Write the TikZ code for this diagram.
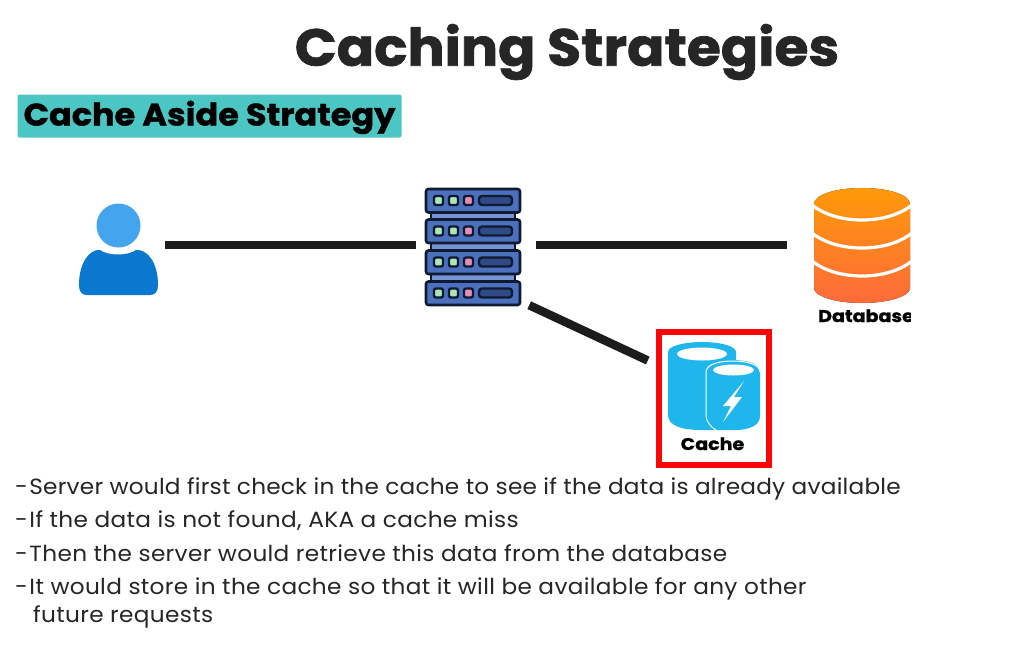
\documentclass[tikz,border=0pt]{standalone}
\usepackage{fontspec}
\setmainfont{Poppins}
\newfontfamily\bodyfont[FakeStretch=1.055,LetterSpace=1.5]{Poppins}
\newfontfamily\bodyfonttight[FakeStretch=1.055,LetterSpace=1.0]{Poppins}
\newfontfamily\titlefont[BoldFeatures={FakeStretch=1.06,FakeBold=1.4}]{Poppins}
\newfontfamily\tagfont[BoldFeatures={FakeStretch=1.08,FakeBold=1.4}]{Poppins}
\newfontfamily\lblfont[BoldFeatures={FakeStretch=1.12,FakeBold=1.2}]{Poppins}
\usetikzlibrary{calc}
\definecolor{ink}{HTML}{262626}
\definecolor{barink}{HTML}{1C1C1C}
\definecolor{tealbg}{HTML}{4CC6C2}
\definecolor{srvblue}{HTML}{4A70BE}
\definecolor{srvdark}{HTML}{2F4A85}
\definecolor{srvlight}{HTML}{7594D6}
\definecolor{srvline}{HTML}{101A30}
\definecolor{ledg}{HTML}{A9E8B5}
\definecolor{ledp}{HTML}{E58DB5}
\definecolor{headlt}{HTML}{45A4EE}
\definecolor{bodybl}{HTML}{0A78CF}
\definecolor{cachebl}{HTML}{1FB6EC}
\definecolor{dbtop}{HTML}{FF9A0A}
\definecolor{dbbot}{HTML}{FF6A3A}
\definecolor{framered}{HTML}{FA0606}
\tikzset{
 slot/.style={draw=none,fill=none,inner sep=0pt},
 linkline/.style={line width=8.5pt,draw=barink},
 bullet/.style={anchor=base west,inner sep=0pt,font=\bodyfont\fontsize{22}{24}\selectfont,text=ink},
 rackbox/.style={draw=srvline,line width=2.6pt,fill=srvblue,rounded corners=2.5pt},
 led/.style={draw=srvline,line width=2.4pt,rounded corners=2pt},
 lbl/.style={inner sep=0pt,font=\lblfont\bfseries\fontsize{17}{20}\selectfont,text=black},
}
\newcommand{\dashlead}{-\hspace*{-5pt} }
\begin{document}
\begin{tikzpicture}[x=1pt,y=-1pt]
\useasboundingbox (0,0) rectangle (1027,662);
\fill[white] (0,0) rectangle (1027,662);
% title
\node[inner sep=0pt,font=\titlefont\bfseries\fontsize{52}{56}\selectfont,text=ink] (title) at (567,52) {Caching Strategies};
\node[fill=tealbg,inner sep=0pt,minimum width=384pt,minimum height=43pt,rounded corners=2pt] (tag) at (209.5,116) {};
\node[inner sep=0pt,font=\tagfont\bfseries\fontsize{31}{34}\selectfont,text=black,anchor=base] (tagtext) at (209.5,125.5) {Cache Aside Strategy};
% slots
\node[slot,minimum width=93pt,minimum height=100pt] (user) at (118.5,245) {};
\node[slot,minimum width=120pt,minimum height=120pt] (server) at (476,245) {};
\node[slot,minimum width=148pt,minimum height=120pt] (db) at (861,245) {};
% user icon
\fill[bodybl] (79,285) .. controls (79,262) and (90,249) .. (100,250) .. controls (108,256) and (128,256) .. (136,250) .. controls (147,249) and (158,262) .. (158,285) .. controls (158,292) and (155,295) .. (150,295) -- (87,295) .. controls (82,295) and (79,292) .. (79,285) -- cycle;
\fill[headlt] (118.5,225.5) circle (22pt);
% server icon
\foreach \yy in {212,243,274}{
 \fill[srvlight] (431,\yy) rectangle (515,\yy+8);
 \draw[srvline,line width=2.2pt] (431,\yy) -- (431,\yy+8) (515,\yy) -- (515,\yy+8);
}
\foreach \yy in {189,219.5,250.5,281.5}{
 \draw[rackbox] (426,\yy) rectangle (520,\yy+23.5);
 \foreach \xx/\cc in {434/ledg,449/ledg,464/ledp}{
  \draw[led,fill=\cc] (\xx,\yy+7) rectangle (\xx+9,\yy+16);
 }
 \draw[led,fill=srvdark,rounded corners=3pt] (479,\yy+7) rectangle (512,\yy+16);
}
% database
\fill[top color=dbtop,bottom color=dbbot] (814,204) -- (814,288) .. controls (814,296) and (835,303) .. (862,303) .. controls (889,303) and (910,296) .. (910,288) -- (910,204) .. controls (910,195) and (889,188) .. (862,188) .. controls (835,188) and (814,195) .. (814,204) -- cycle;
\foreach \yy in {205,233,261}{
 \draw[white,line width=3.2pt] (812,\yy) .. controls (826,\yy+11) and (845,\yy+15) .. (862,\yy+15) .. controls (879,\yy+15) and (898,\yy+11) .. (912,\yy);
}
\node[lbl,anchor=base] (dbl) at (866,322) {Database};
\fill[white] (910.5,300) rectangle (960,330);
% cache
\node[draw=framered,line width=6.5pt,minimum width=110pt,minimum height=133pt,inner sep=0pt,fill=white] (cache) at (714,398.5) {};
\fill[cachebl] (668,352) -- (668,415) .. controls (668,425) and (680,430) .. (702,430) -- (735,430) .. controls (750,430) and (760,425) .. (760,416) -- (760,372) .. controls (760,364) and (750,361) .. (736,360) -- (736,352) .. controls (736,346) and (720,342) .. (702,342) .. controls (684,342) and (668,346) .. (668,352) -- cycle;
\draw[white,line width=1pt] (706,372) .. controls (706,364) and (720,361) .. (733,361) .. controls (748,361) and (760,365) .. (760,372) (706,372) -- (706,416) .. controls (706,422) and (712,428) .. (716,430);
\fill[white] (702,354) ellipse (25pt and 6.5pt);
\fill[white] (733.5,370) ellipse (20.5pt and 5.5pt);
\fill[white] (744,381) -- (723,406) -- (731,406) -- (723,422) -- (742,397) -- (734,397) -- cycle;
\node[lbl,anchor=base] (cachel) at (712.5,450) {Cache};
% connectors
\draw[linkline] (user.east) -- (server.west);
\draw[linkline] (server.east) -- (db.west);
\draw[linkline] ($(server.south east)+(-7,0)$) -- ($(cache.west)+(-8,-38)$);
% bullets
\node[bullet] (b1) at (15,494) {\bodyfonttight\fontsize{22}{24}\selectfont\dashlead Server would first check in the cache to see if the data is already available};
\node[bullet] (b2) at (15,527.5) {\dashlead If the data is not found, AKA a cache miss};
\node[bullet] (b3) at (15,561) {\dashlead Then the server would retrieve this data from the database};
\node[bullet] (b4) at (15,594.5) {\dashlead It would store in the cache so that it will be available for any other};
\node[bullet] (b5) at (33,622) {future requests};
\end{tikzpicture}
\end{document}
